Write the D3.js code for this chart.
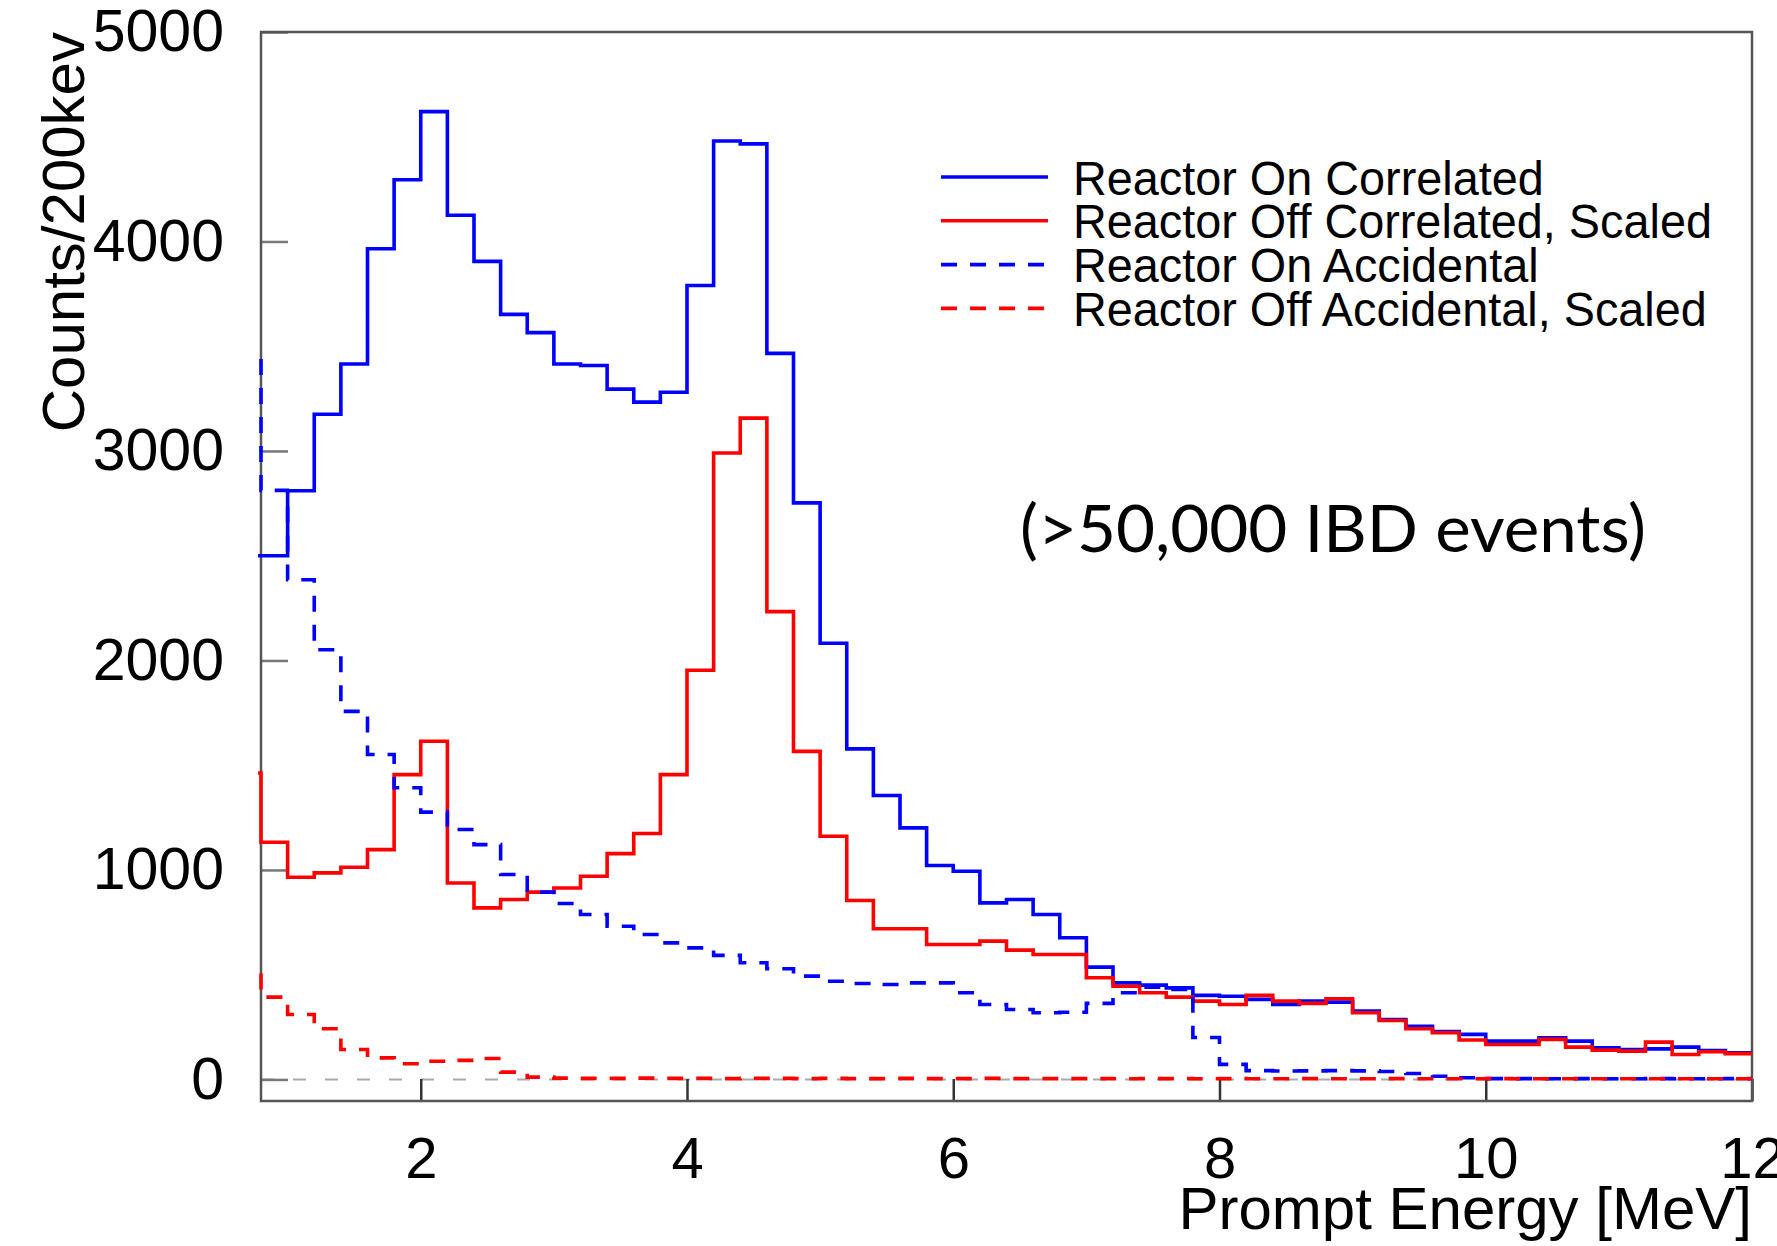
<!DOCTYPE html>
<html>
<head>
<meta charset="utf-8">
<script src="https://cdn.jsdelivr.net/npm/d3@7"></script>
<style>
body{margin:0;background:#fff}
svg{display:block}
text{font-family:"Liberation Sans",Arial,Helvetica,sans-serif;fill:#000}
</style>
</head>
<body>
<script>
// 200 keV bins, first bin (0.6-0.8) sits just left of the frame and only shows its step at 0.8
const binStart = 0.6
const binWidth = 0.2

const onCorrelated = [2500,2500,2810,3175,3415,3965,4295,4620,4125,3905,3652,3565,3415,3408,3295,3233,3280,
  3790,4480,4466,3466,2752,2082,1578,1355,1201,1021,994,843,859,787,676,536,461,450,437,401,397,
  382,358,374,369,326,286,254,228,215,183,183,199,183,151,143,146,154,138,127]

const offCorrelated = [1463,1132,965,986,1013,1097,1455,1614,938,819,859,894,914,970,1078,1174,1455,
  1953,2990,3157,2233,1566,1161,854,719,719,644,644,660,617,596,596,485,445,414,393,374,358,
  401,374,363,385,318,281,242,223,188,167,167,191,154,140,135,178,119,132,123]

const onAccidental = [3450,2812,2385,2051,1757,1551,1392,1276,1193,1121,978,894,840,787,731,692,652,
  628,592,557,528,493,469,458,453,461,461,414,358,334,318,321,363,414,440,430,200,72,
  42,40,41,42,41,38,28,15,8,4,4,3,4,3,3,4,3,3,4]

const offAccidental = [517,393,310,242,143,103,75,87,91,100,35,11,
  6,5,5,6,5,5,4,5,5,4,5,4,4,5,4,4,5,4,4,4,4,3,4,4,3,4,3,3,4,3,3,4,3,3,3,4,3,3,3,3,3,3,3,3,3]

const seriesNames = ["Reactor On Correlated","Reactor Off Correlated, Scaled","Reactor On Accidental","Reactor Off Accidental, Scaled"]
const xTicks = [2,4,6,8,10,12]
const yTicks = [0,1000,2000,3000,4000,5000]
const xTitle = "Prompt Energy [MeV]"
const yTitle = "Counts/200kev"
const note = "(>50,000 IBD events)"

const width = 1777, height = 1246
const margin = {top:32, right:25, bottom:145, left:261}

const series = [
  {name:seriesNames[0], values:onCorrelated, color:"#0000ff", dash:null},
  {name:seriesNames[1], values:offCorrelated, color:"#ff0000", dash:null},
  {name:seriesNames[2], values:onAccidental, color:"#0000ff", dash:"16,13"},
  {name:seriesNames[3], values:offAccidental, color:"#ff0000", dash:"16,13"},
]

const svg = d3.select("body").append("svg")
  .attr("width", width)
  .attr("height", height)

const x = d3.scaleLinear()
  .domain([0.8, 12])
  .range([margin.left, width - margin.right])

const y = d3.scaleLinear()
  .domain([-103, 5000])
  .range([height - margin.bottom, margin.top])

svg.append("defs").append("clipPath").attr("id","plotclip")
  .append("rect")
  .attr("x", margin.left - 3)
  .attr("y", margin.top - 2)
  .attr("width", width - margin.right - margin.left + 5)
  .attr("height", height - margin.bottom - margin.top + 2)

// zero reference line
svg.append("line")
  .attr("x1", x(0.8)).attr("x2", x(12))
  .attr("y1", y(0)).attr("y2", y(0))
  .attr("stroke", "#aaa")
  .attr("stroke-width", 2)
  .attr("stroke-dasharray", "13,19")

// axes (ticks point inward)
const yAxis = svg.append("g")
  .attr("transform", `translate(${margin.left},0)`)
  .call(d3.axisLeft(y).tickValues(yTicks).tickFormat(d3.format("d")).tickSize(-27).tickSizeOuter(0).tickPadding(37))
yAxis.select(".domain").remove()
yAxis.selectAll(".tick line").attr("stroke", "#777").attr("stroke-width", 2.5)
yAxis.selectAll(".tick text").style("font-size", "59px")

const xAxis = svg.append("g")
  .attr("transform", `translate(0,${height - margin.bottom})`)
  .call(d3.axisBottom(x).tickValues(xTicks).tickFormat(d3.format("d")).tickSize(-22).tickSizeOuter(0).tickPadding(36))
xAxis.select(".domain").remove()
xAxis.selectAll(".tick line").attr("stroke", "#333").attr("stroke-width", 2.5)
xAxis.selectAll(".tick text").style("font-size", "58px")

// frame
svg.append("rect")
  .attr("x", x(0.8)).attr("y", y(5000))
  .attr("width", x(12) - x(0.8))
  .attr("height", y(-103) - y(5000))
  .attr("fill", "none")
  .attr("stroke", "#555")
  .attr("stroke-width", 2.5)

// histograms
const line = d3.line()
  .x(d => x(d[0]))
  .y(d => y(d[1]))
  .curve(d3.curveStepAfter)

const stepPoints = values => {
  const pts = values.map((v,i) => [binStart + i*binWidth, v])
  pts.push([binStart + values.length*binWidth, values[values.length-1]])
  return pts
}

svg.append("g")
  .attr("clip-path", "url(#plotclip)")
  .selectAll("path")
  .data(series)
  .join("path")
  .attr("d", d => line(stepPoints(d.values)))
  .attr("fill", "none")
  .attr("stroke", d => d.color)
  .attr("stroke-width", 3.6)
  .attr("stroke-dasharray", d => d.dash)

// legend
const legendY0 = 177, legendStep = 43.8

svg.append("g")
  .selectAll("line")
  .data(series)
  .join("line")
  .attr("x1", 941).attr("x2", 1048)
  .attr("y1", (d,i) => legendY0 + i*legendStep)
  .attr("y2", (d,i) => legendY0 + i*legendStep)
  .attr("stroke", d => d.color)
  .attr("stroke-width", 3.6)
  .attr("stroke-dasharray", d => d.dash)

// one text block, lines set as tspans (rows sit tighter than the glyph boxes)
svg.append("text")
  .attr("transform", `translate(1073,${legendY0}) scale(0.955,1)`)
  .style("font-size", "49px")
  .selectAll("tspan")
  .data(series)
  .join("tspan")
  .attr("x", 0)
  .attr("y", (d,i) => i*legendStep)
  .attr("dy", "0.36em")
  .text(d => d.name)

// axis titles
svg.append("text")
  .attr("text-anchor", "end")
  .attr("x", x(12))
  .attr("y", 1229)
  .style("font-size", "60px")
  .text(xTitle)

svg.append("text")
  .attr("text-anchor", "end")
  .attr("transform", `translate(84,${margin.top}) rotate(-90)`)
  .style("font-size", "60px")
  .text(yTitle)

// note
svg.append("text")
  .attr("x", 1020)
  .attr("y", 552)
  .attr("textLength", 626)
  .attr("lengthAdjust", "spacingAndGlyphs")
  .style("font-family", "Lato, 'Open Sans', sans-serif")
  .style("font-size", "66px")
  .text(note)
</script>
</body>
</html>
